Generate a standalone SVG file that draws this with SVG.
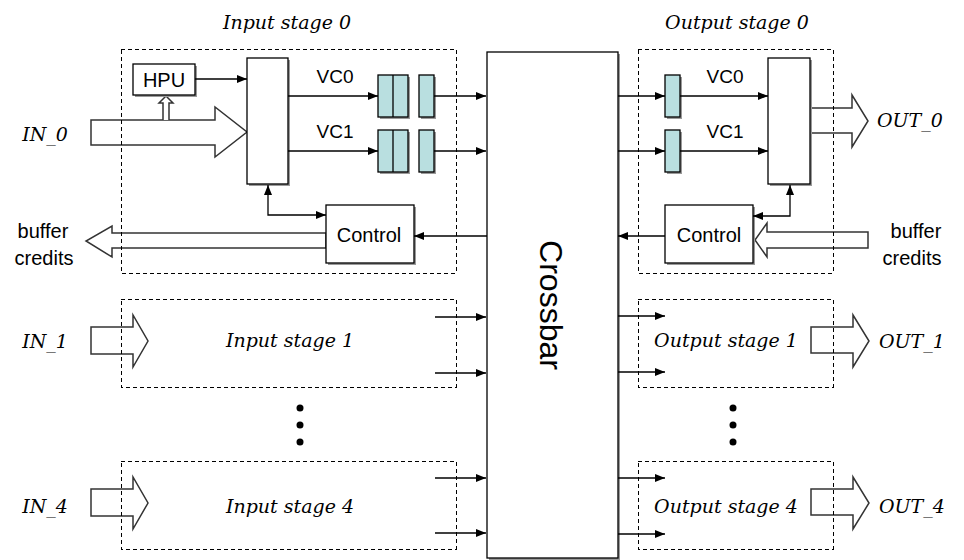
<svg xmlns="http://www.w3.org/2000/svg" width="964" height="560" viewBox="0 0 964 560">
<style>
.box{fill:#fff;stroke:#000;stroke-width:1.3}
.sh{fill:#9a9a9a}
.q{fill:#b9dfe0;stroke:#000;stroke-width:1.3}
.dash{fill:none;stroke:#000;stroke-width:1;stroke-dasharray:4 3;shape-rendering:crispEdges}
.ln{fill:none;stroke:#000;stroke-width:1.3}
.fat{fill:#fff;stroke:#333;stroke-width:1.5;stroke-linejoin:miter}
.sans{font-family:"Liberation Sans",Arial,sans-serif;font-size:20px;fill:#000}
.vc{font-family:"Liberation Sans",Arial,sans-serif;font-size:19px;fill:#000}
.it{font-family:"DejaVu Serif","Liberation Serif",serif;font-style:italic;font-size:19px;fill:#000}
.dot{fill:#000}
</style>
<defs>
<marker id="ah" viewBox="0 0 10 8" refX="10" refY="4" markerWidth="10" markerHeight="8" markerUnits="userSpaceOnUse" orient="auto">
<path d="M0,0 L10,4 L0,8 Z" fill="#000"/>
</marker>
<marker id="ahs" viewBox="0 0 10 8" refX="10" refY="4" markerWidth="10" markerHeight="8" markerUnits="userSpaceOnUse" orient="auto-start-reverse">
<path d="M0,0 L10,4 L0,8 Z" fill="#000"/>
</marker>
</defs>

<!-- Hollow (wide) arrows -->
<g id="fat-arrows">
<polygon class="fat" points="91,120 215,120 215,107 247,132 215,157 215,145 91,145"/>
<polyline class="fat" points="163,120 163,103 159,103 166,96 173,103 169,103 169,120"/>
<polygon class="fat" points="326,233 112,233 112,226 86,241 112,257 112,248 326,248"/>
<polyline class="fat" points="810,108 852,108 852,95 868,121 852,147 852,133 810,133"/>
<polygon class="fat" points="868,232 767,232 767,223 755,240 767,257 767,248 868,248"/>
<polygon class="fat" points="91,327 133,327 133,315 148,341 133,367 133,354 91,354"/>
<polygon class="fat" points="91,489 133,489 133,477 148,503 133,529 133,516 91,516"/>
<polygon class="fat" points="811,327 853,327 853,315 869,341 853,367 853,353 811,353"/>
<polygon class="fat" points="811,489 853,489 853,477 869,503 853,529 853,515 811,515"/>
</g>

<!-- Crossbar -->
<g id="crossbar">
<rect class="sh" x="489" y="54" width="131" height="506"/>
<rect class="box" x="487" y="52" width="131" height="506"/>
<text class="sans" style="font-size:32px" text-anchor="middle" transform="translate(540,305) rotate(90)">Crossbar</text>
</g>

<!-- Input stage 0 -->
<g id="input-stage-0">
<text class="it" x="287" y="29" text-anchor="middle">Input stage 0</text>
<g id="hpu">
<rect class="sh" x="135" y="66" width="62" height="31"/>
<rect class="box" x="133" y="64" width="62" height="31"/>
<text class="sans" x="164" y="87" text-anchor="middle">HPU</text>
</g>
<g id="in-mux">
<rect class="sh" x="249" y="60" width="41" height="126"/>
<rect class="box" x="247" y="58" width="41" height="126"/>
</g>
<g id="in-vc0-queue">
<rect class="sh" x="380" y="77" width="30" height="42"/>
<rect class="q" x="378" y="75" width="30" height="42"/>
<line class="ln" x1="393" y1="75" x2="393" y2="117"/>
<rect class="sh" x="421" y="77" width="15" height="42"/>
<rect class="q" x="419" y="75" width="15" height="42"/>
</g>
<g id="in-vc1-queue">
<rect class="sh" x="380" y="132" width="30" height="42"/>
<rect class="q" x="378" y="130" width="30" height="42"/>
<line class="ln" x1="393" y1="130" x2="393" y2="172"/>
<rect class="sh" x="421" y="132" width="15" height="42"/>
<rect class="q" x="419" y="130" width="15" height="42"/>
</g>
<text class="vc" x="335" y="83" text-anchor="middle">VC0</text>
<text class="vc" x="335" y="138" text-anchor="middle">VC1</text>
<g id="in-control">
<rect class="sh" x="328" y="207" width="88" height="58"/>
<rect class="box" x="326" y="205" width="88" height="58"/>
<text class="sans" x="369" y="242" text-anchor="middle">Control</text>
</g>
<rect class="dash" x="121" y="49" width="335" height="224"/>
</g>

<!-- Output stage 0 -->
<g id="output-stage-0">
<text class="it" x="737" y="29" text-anchor="middle">Output stage 0</text>
<g id="out-vc0-queue">
<rect class="sh" x="667" y="77" width="15" height="42"/>
<rect class="q" x="665" y="75" width="15" height="42"/>
</g>
<g id="out-vc1-queue">
<rect class="sh" x="667" y="132" width="15" height="42"/>
<rect class="q" x="665" y="130" width="15" height="42"/>
</g>
<text class="vc" x="725" y="83" text-anchor="middle">VC0</text>
<text class="vc" x="725" y="138" text-anchor="middle">VC1</text>
<g id="out-mux">
<rect class="sh" x="770" y="60" width="42" height="126"/>
<rect class="box" x="768" y="58" width="42" height="126"/>
</g>
<g id="out-control">
<rect class="sh" x="667" y="207" width="88" height="58"/>
<rect class="box" x="665" y="205" width="88" height="58"/>
<text class="sans" x="709" y="242" text-anchor="middle">Control</text>
</g>
<rect class="dash" x="638" y="49" width="195" height="224"/>
</g>

<!-- Lower stages -->
<g id="input-stage-1">
<rect class="dash" x="121" y="299" width="335" height="88"/>
<text class="it" x="290" y="347" text-anchor="middle">Input stage 1</text>
</g>
<g id="input-stage-4">
<rect class="dash" x="121" y="461" width="335" height="88"/>
<text class="it" x="290" y="513" text-anchor="middle">Input stage 4</text>
</g>
<g id="output-stage-1">
<rect class="dash" x="638" y="299" width="195" height="88"/>
<text class="it" x="726" y="347" text-anchor="middle">Output stage 1</text>
</g>
<g id="output-stage-4">
<rect class="dash" x="638" y="461" width="195" height="88"/>
<text class="it" x="726" y="513" text-anchor="middle">Output stage 4</text>
</g>

<g id="ellipsis">
<circle class="dot" cx="300" cy="408" r="3.5"/>
<circle class="dot" cx="300" cy="425" r="3.5"/>
<circle class="dot" cx="300" cy="442" r="3.5"/>
<circle class="dot" cx="733" cy="408" r="3.5"/>
<circle class="dot" cx="733" cy="425" r="3.5"/>
<circle class="dot" cx="733" cy="442" r="3.5"/>
</g>

<!-- Port labels -->
<g id="labels">
<text class="it" x="45" y="141" text-anchor="middle">IN_0</text>
<text class="it" x="45" y="348" text-anchor="middle">IN_1</text>
<text class="it" x="45" y="513" text-anchor="middle">IN_4</text>
<text class="it" x="877" y="127">OUT_0</text>
<text class="it" x="879" y="348">OUT_1</text>
<text class="it" x="879" y="513">OUT_4</text>
<text class="sans" x="43" y="238" text-anchor="middle">buffer</text>
<text class="sans" x="44" y="265" text-anchor="middle">credits</text>
<text class="sans" x="916" y="238" text-anchor="middle">buffer</text>
<text class="sans" x="912" y="265" text-anchor="middle">credits</text>
</g>

<!-- Connectors -->
<g id="connectors">
<line class="ln" x1="195" y1="79" x2="247" y2="79" marker-end="url(#ah)"/>
<line class="ln" x1="288" y1="96" x2="378" y2="96" marker-end="url(#ah)"/>
<line class="ln" x1="288" y1="151" x2="378" y2="151" marker-end="url(#ah)"/>
<line class="ln" x1="434" y1="96" x2="486" y2="96" marker-end="url(#ah)"/>
<line class="ln" x1="434" y1="151" x2="486" y2="151" marker-end="url(#ah)"/>
<polyline class="ln" points="268,185 268,215 326,215" marker-start="url(#ahs)" marker-end="url(#ah)"/>
<line class="ln" x1="487" y1="236" x2="414" y2="236" marker-end="url(#ah)"/>
<line class="ln" x1="618" y1="96" x2="665" y2="96" marker-end="url(#ah)"/>
<line class="ln" x1="618" y1="151" x2="665" y2="151" marker-end="url(#ah)"/>
<line class="ln" x1="680" y1="96" x2="768" y2="96" marker-end="url(#ah)"/>
<line class="ln" x1="680" y1="151" x2="768" y2="151" marker-end="url(#ah)"/>
<polyline class="ln" points="790,185 790,216 753,216" marker-start="url(#ahs)" marker-end="url(#ah)"/>
<line class="ln" x1="665" y1="236" x2="618" y2="236" marker-end="url(#ah)"/>
<line class="ln" x1="435" y1="317" x2="486" y2="317" marker-end="url(#ah)"/>
<line class="ln" x1="435" y1="373" x2="486" y2="373" marker-end="url(#ah)"/>
<line class="ln" x1="435" y1="478" x2="486" y2="478" marker-end="url(#ah)"/>
<line class="ln" x1="435" y1="533" x2="486" y2="533" marker-end="url(#ah)"/>
<line class="ln" x1="618" y1="316" x2="665" y2="316" marker-end="url(#ah)"/>
<line class="ln" x1="618" y1="372" x2="665" y2="372" marker-end="url(#ah)"/>
<line class="ln" x1="618" y1="478" x2="665" y2="478" marker-end="url(#ah)"/>
<line class="ln" x1="618" y1="534" x2="665" y2="534" marker-end="url(#ah)"/>
</g>
</svg>
